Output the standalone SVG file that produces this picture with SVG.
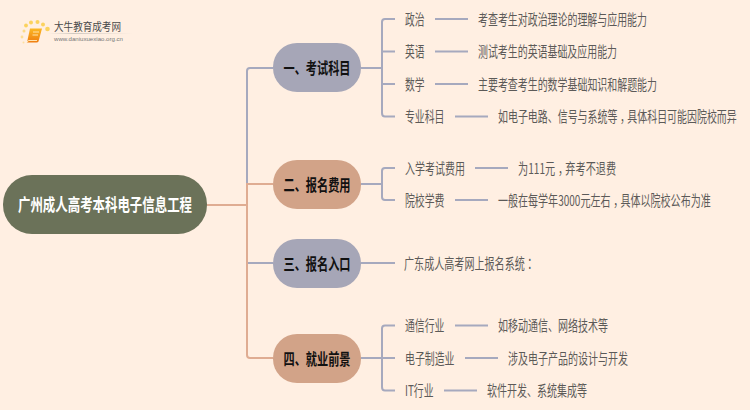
<svg xmlns="http://www.w3.org/2000/svg" width="750" height="410" viewBox="0 0 750 410">
<style>
text{font-family:"Noto Sans CJK SC","Liberation Sans",sans-serif}
.c{fill:none;stroke:#a6a9be;stroke-width:2}
.o{fill:none;stroke:#dfac92;stroke-width:2}
.t{font-size:14.5px;fill:#5c5a58}
.p{font-size:16px;font-weight:700;fill:#111;text-anchor:middle}
.g{fill:#a6a6b7}
.b{fill:#d2a388}
.d{fill:#fbd25e}
</style>
<defs><linearGradient id="u"><stop offset="0" stop-color="#d8d0c8" stop-opacity="0"/><stop offset=".3" stop-color="#cfc8c0"/><stop offset="1" stop-color="#d8d0c8" stop-opacity="0"/></linearGradient>
<linearGradient id="bk" x1="0" y1="0" x2="0" y2="1"><stop offset="0" stop-color="#fbb824"/><stop offset="1" stop-color="#ef7d10"/></linearGradient></defs>
<rect width="750" height="410" fill="#ffefe2"/>
<g id="logo">
<circle cx="24" cy="31" r="1.500" class="d" opacity=".7"/><circle cx="22" cy="37" r="1.400" class="d" opacity=".6"/><circle cx="26" cy="25.500" r="1.900" class="d"/><circle cx="31" cy="22.500" r="2" class="d"/><circle cx="37.500" cy="22" r="2" class="d"/><circle cx="43" cy="24.500" r="2" class="d"/><circle cx="47.500" cy="29" r="2.300" class="d"/><circle cx="23.500" cy="42.500" r="1" class="d" opacity=".5"/>
<path d="M30 28.500H42L38.500 41.500Q38 42.500 36.500 42.500H27L30 28.500Z" fill="url(#bk)"/>
<path d="M27 42.500Q27.500 40.500 29 40.500H37" fill="none" stroke="#ffe3b0" stroke-width="1"/>
<path d="M33 32H39M32.500 35H38" stroke="#ffe3a8" stroke-width="1"/>
<text x="54" y="31" font-size="11" fill="#4a4a4a" textLength="67" lengthAdjust="spacingAndGlyphs">大牛教育成考网</text>
<rect x="48" y="33" width="85" height="1" fill="url(#u)"/>
<text x="54" y="41" font-size="6" fill="#777" textLength="69" lengthAdjust="spacingAndGlyphs" style="font-family:'Liberation Sans',sans-serif">www.daniuxuexiao.org.cn</text>
</g>
<g id="connectors">
<path class="c" d="M273 68H250Q247 68 247 71V184"/>
<path class="c" d="M247 263H273"/>
<path class="o" d="M207 205H247"/>
<path class="o" d="M273 184H247V355Q247 358 250 358H273"/>
<path class="c" d="M361 68H382M395 19H385Q382 19 382 22V113Q382 116.500 385 116.500H395M382 51.500H395M382 84H395"/>
<path class="c" d="M435 19H468M435 51.500H468M435 84H468M455 116.500H488"/>
<path class="c" d="M361 184H382M395 168H385Q382 168 382 171V197Q382 200 385 200H395"/>
<path class="c" d="M475 168H508M455 200H488"/>
<path class="c" d="M361 263H395"/>
<path class="c" d="M361 358H395M395 325.500H385Q382 325.500 382 328.500V387Q382 390.500 385 390.500H395"/>
<path class="c" d="M455 325.500H488M465 358H498M444 390.500H477"/>
</g>
<g id="root"><rect x="3" y="175" width="204" height="59" rx="29" fill="#6b7259"/><text x="105" y="211" text-anchor="middle" font-size="17.500" font-weight="700" fill="#fff" textLength="174" lengthAdjust="spacingAndGlyphs">广州成人高考本科电子信息工程</text></g>
<g id="n1"><rect class="g" x="273" y="43" width="88" height="49" rx="24"/><text class="p" x="317" y="74" textLength="67" lengthAdjust="spacingAndGlyphs">一、考试科目</text></g>
<g id="n2"><rect class="b" x="273" y="160" width="88" height="49" rx="24"/><text class="p" x="317" y="191" textLength="67" lengthAdjust="spacingAndGlyphs">二、报名费用</text></g>
<g id="n3"><rect class="g" x="273" y="239" width="88" height="49" rx="24"/><text class="p" x="317" y="270" textLength="67" lengthAdjust="spacingAndGlyphs">三、报名入口</text></g>
<g id="n4"><rect class="b" x="273" y="334" width="88" height="49" rx="24"/><text class="p" x="317" y="365" textLength="67" lengthAdjust="spacingAndGlyphs">四、就业前景</text></g>
<g id="n1-1"><text class="t" x="405" y="24.500" textLength="19.500" lengthAdjust="spacingAndGlyphs">政治</text></g>
<g id="n1-1-1"><text class="t" x="478" y="24.500" textLength="169" lengthAdjust="spacingAndGlyphs">考查考生对政治理论的理解与应用能力</text></g>
<g id="n1-2"><text class="t" x="405" y="57" textLength="19.500" lengthAdjust="spacingAndGlyphs">英语</text></g>
<g id="n1-2-1"><text class="t" x="478" y="57" textLength="139" lengthAdjust="spacingAndGlyphs">测试考生的英语基础及应用能力</text></g>
<g id="n1-3"><text class="t" x="405" y="89.500" textLength="19.500" lengthAdjust="spacingAndGlyphs">数学</text></g>
<g id="n1-3-1"><text class="t" x="478" y="89.500" textLength="179" lengthAdjust="spacingAndGlyphs">主要考查考生的数学基础知识和解题能力</text></g>
<g id="n1-4"><text class="t" x="405" y="122" textLength="39.500" lengthAdjust="spacingAndGlyphs">专业科目</text></g>
<g id="n1-4-1"><text class="t" transform="translate(498 122) scale(.687 1)" dx="0 0 0 0 0 0 0 0 0 0 0 0 4 -4">如电子电路、信号与系统等，具体科目可能因院校而异</text></g>
<g id="n2-1"><text class="t" x="405" y="173.500" textLength="60" lengthAdjust="spacingAndGlyphs">入学考试费用</text></g>
<g id="n2-1-1"><text class="t" transform="translate(518 173.500) scale(.7 1)" dx="0 0 0 0 0 4 -4">为111元，弃考不退费</text></g>
<g id="n2-2"><text class="t" x="405" y="205.500" textLength="39.500" lengthAdjust="spacingAndGlyphs">院校学费</text></g>
<g id="n2-2-1"><text class="t" transform="translate(498 205.500) scale(.692 1)" dx="0 0 0 0 0 0 0 0 0 0 0 0 0 4 -4">一般在每学年3000元左右，具体以院校公布为准</text></g>
<g id="n3-1"><text class="t" transform="translate(404 268.500) scale(.695 1)">广东成人高考网上报名系统<tspan style="font-family:'Noto Sans CJK TC',sans-serif">：</tspan></text></g>
<g id="n4-1"><text class="t" x="405" y="331" textLength="39.500" lengthAdjust="spacingAndGlyphs">通信行业</text></g>
<g id="n4-1-1"><text class="t" x="498" y="331" textLength="110" lengthAdjust="spacingAndGlyphs">如移动通信、网络技术等</text></g>
<g id="n4-2"><text class="t" x="405" y="363.500" textLength="49.500" lengthAdjust="spacingAndGlyphs">电子制造业</text></g>
<g id="n4-2-1"><text class="t" x="508" y="363.500" textLength="120" lengthAdjust="spacingAndGlyphs">涉及电子产品的设计与开发</text></g>
<g id="n4-3"><text class="t" x="405" y="396" textLength="28.500" lengthAdjust="spacingAndGlyphs">IT行业</text></g>
<g id="n4-3-1"><text class="t" x="487" y="396" textLength="100" lengthAdjust="spacingAndGlyphs">软件开发、系统集成等</text></g>
</svg>
